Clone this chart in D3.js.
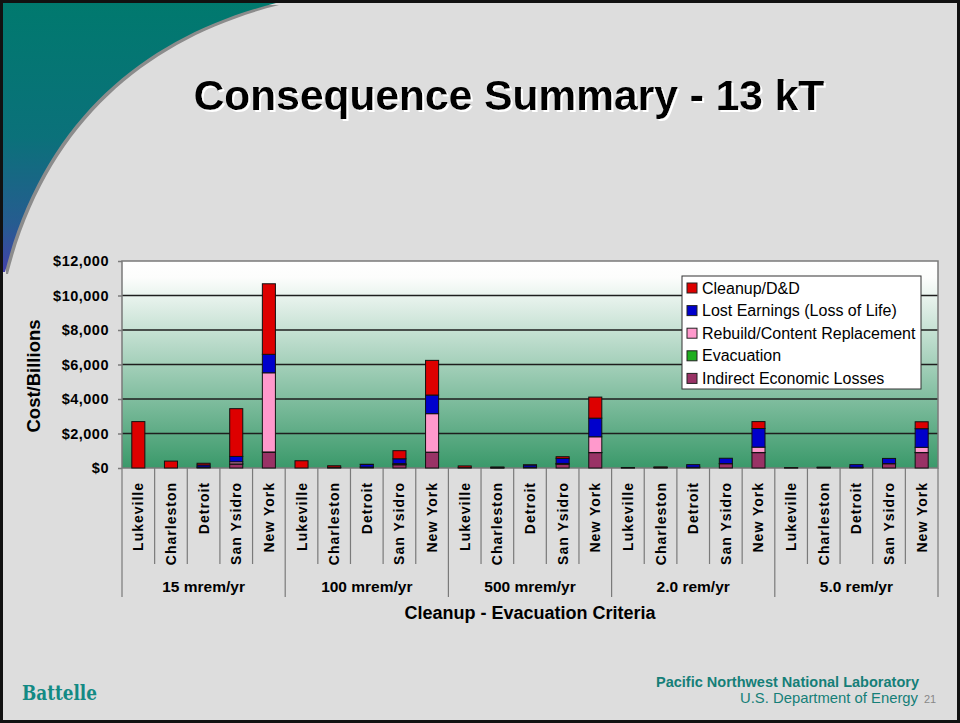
<!DOCTYPE html>
<html>
<head>
<meta charset="utf-8">
<script src="https://cdn.jsdelivr.net/npm/d3@7"></script>
<style>
  body { margin: 0; background: #dcdcdc; }
  svg { display: block; font-family: "Liberation Sans", Arial, sans-serif; }
</style>
</head>
<body>
<svg id="slide" width="960" height="723"></svg>
<script>
// chart data (values in $ billions)
var cities = ["Lukeville", "Charleston", "Detroit", "San Ysidro", "New York"];
var criteria = ["15 mrem/yr", "100 mrem/yr", "500 mrem/yr", "2.0 rem/yr", "5.0 rem/yr"];
var yTicks = [0, 2000, 4000, 6000, 8000, 10000, 12000];

// each series: 5 cities x 5 criteria, criteria-major
var indirectLosses = [0, 0, 50, 230, 920,   0, 20, 50, 190, 910,   20, 10, 40, 230, 890,   10, 20, 40, 250, 890,   10, 20, 40, 250, 890];
var evacuation     = [0, 0, 5, 10, 10,      0, 0, 5, 5, 10,        0, 0, 5, 5, 10,         0, 0, 5, 5, 10,         0, 0, 5, 5, 10];
var rebuild        = [0, 0, 0, 120, 4590,   0, 0, 0, 60, 2230,     0, 0, 0, 30, 910,       0, 0, 0, 0, 310,        0, 0, 0, 0, 300];
var lostEarnings   = [0, 0, 120, 310, 1070, 0, 20, 150, 280, 1080, 0, 10, 130, 290, 1080,  0, 20, 150, 310, 1080,  0, 10, 150, 300, 1080];
var cleanup        = [2690, 400, 100, 2770, 4090, 420, 90, 10, 470, 2010, 100, 40, 5, 100, 1220, 20, 20, 0, 0, 400, 10, 20, 0, 0, 400];

var seriesNames  = ["Indirect Economic Losses", "Evacuation", "Rebuild/Content Replacement", "Lost Earnings (Loss of Life)", "Cleanup/D&D"];
var seriesValues = [indirectLosses, evacuation, rebuild, lostEarnings, cleanup];
var seriesColors = ["#993366", "#1fae1f", "#ff99cc", "#0000cc", "#dd0000"];

var svg = d3.select("#slide");
var defs = svg.append("defs");

//slide background + frame
svg.append("rect").attr("width", 960).attr("height", 723).attr("fill", "#dddddd");

var sw = defs.append("linearGradient").attr("id", "swoosh")
    .attr("x1", 0).attr("y1", 0).attr("x2", 0).attr("y2", 1);
sw.append("stop").attr("offset", "0%").attr("stop-color", "#00796e");
sw.append("stop").attr("offset", "50%").attr("stop-color", "#0b717a");
sw.append("stop").attr("offset", "82%").attr("stop-color", "#265c90");
sw.append("stop").attr("offset", "100%").attr("stop-color", "#4242aa");

var curve = "M 3 3 L 276 3 C 150 35, 45 115, 5 272 L 3 272 Z";
svg.append("path").attr("d", curve).attr("fill", "#8c8c8c").attr("transform", "translate(3,2)");
svg.append("path").attr("d", curve).attr("fill", "url(#swoosh)");

svg.append("rect").attr("x", 1.5).attr("y", 1.5).attr("width", 957).attr("height", 720)
    .attr("fill", "none").attr("stroke", "#111").attr("stroke-width", 3);

//title with white drop
var shadow = defs.append("filter").attr("id", "whiteDrop")
    .attr("x", "-5%").attr("y", "-20%").attr("width", "110%").attr("height", "140%");
shadow.append("feOffset").attr("in", "SourceAlpha").attr("dx", 2).attr("dy", 2).attr("result", "off");
shadow.append("feFlood").attr("flood-color", "#ffffff");
shadow.append("feComposite").attr("in2", "off").attr("operator", "in").attr("result", "wh");
var fm = shadow.append("feMerge");
fm.append("feMergeNode").attr("in", "wh");
fm.append("feMergeNode").attr("in", "SourceGraphic");

svg.append("text").attr("x", 509).attr("y", 110).attr("text-anchor", "middle")
    .attr("filter", "url(#whiteDrop)")
    .style("font-size", "42.5px").style("font-weight", "bold").attr("fill", "#000")
    .text("Consequence Summary - 13 kT");

//plot
var px0 = 122, px1 = 938, py0 = 261, py1 = 468;
var labels = [];
criteria.forEach(function(c){ cities.forEach(function(city){ labels.push({city: city, crit: c}); }); });

var x = d3.scaleBand().domain(d3.range(labels.length)).range([px0, px1])
    .paddingInner(0.6).paddingOuter(0.3);
var y = d3.scaleLinear().domain([0, 12000]).range([py1, py0]);

var pg = defs.append("linearGradient").attr("id", "plotbg")
    .attr("x1", 0).attr("y1", 0).attr("x2", 0).attr("y2", 1);
pg.append("stop").attr("offset", "0%").attr("stop-color", "#ffffff");
pg.append("stop").attr("offset", "8%").attr("stop-color", "#fcfdfc");
pg.append("stop").attr("offset", "100%").attr("stop-color", "#3a996a");

svg.append("rect").attr("x", px0).attr("y", py0).attr("width", px1 - px0).attr("height", py1 - py0)
    .attr("fill", "url(#plotbg)");

svg.append("g").selectAll("line").data(yTicks.filter(function(t){ return t > 0 && t < 12000; }))
    .enter().append("line")
    .attr("x1", px0).attr("x2", px1)
    .attr("y1", function(d){ return y(d); }).attr("y2", function(d){ return y(d); })
    .attr("stroke", "#1e1e1e").attr("stroke-width", 1.5);

svg.append("rect").attr("x", px0).attr("y", py0).attr("width", px1 - px0).attr("height", py1 - py0)
    .attr("fill", "none").attr("stroke", "#7a7a7a").attr("stroke-width", 1.5);

//stacked bars
var rows = labels.map(function(l, i){
    var r = {i: i};
    seriesNames.forEach(function(n, k){ r[n] = seriesValues[k][i]; });
    return r;
});
var stacked = d3.stack().keys(seriesNames)(rows);

svg.append("g").selectAll("g").data(stacked).enter().append("g")
    .attr("fill", function(d, k){ return seriesColors[k]; })
    .selectAll("rect").data(function(d){ return d.filter(function(s){ return s[1] - s[0] > 0; }); })
    .enter().append("rect")
    .attr("x", function(d){ return x(d.data.i); })
    .attr("width", x.bandwidth())
    .attr("y", function(d){ return y(d[1]); })
    .attr("height", function(d){ return y(d[0]) - y(d[1]); })
    .attr("stroke", "#111").attr("stroke-width", 1);

//y axis
var yAxis = d3.axisLeft(y).tickValues(yTicks).tickSize(4).tickPadding(9)
    .tickFormat(function(d){ return "$" + d3.format(",")(d); });
var ya = svg.append("g").attr("transform", "translate(" + px0 + ",0)").call(yAxis);
ya.select(".domain").remove();
ya.selectAll(".tick line").attr("stroke", "#7a7a7a").attr("stroke-width", 1.5);
ya.selectAll("text").attr("fill", "#000")
    .style("font-size", "14.5px").style("font-weight", "bold")
    .style("font-family", "'Liberation Sans', Arial, sans-serif").style("letter-spacing", "0.5px");

svg.append("text").attr("transform", "translate(40,376) rotate(-90)").attr("text-anchor", "middle")
    .style("font-size", "18.5px").style("font-weight", "bold").text("Cost/Billions");

//category labels & dividers
var step = x.step();
svg.append("g").selectAll("line").data(d3.range(labels.length + 1)).enter().append("line")
    .attr("x1", function(i){ return px0 + i * step; }).attr("x2", function(i){ return px0 + i * step; })
    .attr("y1", py1).attr("y2", function(i){ return i % cities.length === 0 ? 597 : 564; })
    .attr("stroke", "#7a7a7a").attr("stroke-width", 1.2);

svg.append("g").selectAll("text").data(labels).enter().append("text")
    .attr("transform", function(d, i){
        return "translate(" + (x(i) + x.bandwidth() / 2 + 5) + ",482) rotate(-90)";
    })
    .attr("text-anchor", "end")
    .style("font-size", "14px").style("font-weight", "bold").style("letter-spacing", "1px")
    .text(function(d){ return d.city; });

svg.append("g").selectAll("text").data(criteria).enter().append("text")
    .attr("x", function(d, g){ return px0 + (g * cities.length + cities.length / 2) * step; })
    .attr("y", 592).attr("text-anchor", "middle")
    .style("font-size", "15.5px").style("font-weight", "bold")
    .text(function(d){ return d; });

svg.append("text").attr("x", 530).attr("y", 619).attr("text-anchor", "middle")
    .style("font-size", "18px").style("font-weight", "bold").text("Cleanup - Evacuation Criteria");

//legend
var lg = svg.append("g").attr("transform", "translate(682,276)");
lg.append("rect").attr("width", 239).attr("height", 113).attr("fill", "#fff")
    .attr("stroke", "#333").attr("stroke-width", 1);
var legendOrder = d3.range(seriesNames.length).reverse();
var item = lg.selectAll("g.item").data(legendOrder).enter().append("g")
    .attr("transform", function(k, j){ return "translate(0," + (12 + j * 22.6) + ")"; });
item.append("rect").attr("x", 5).attr("y", -5).attr("width", 10).attr("height", 10)
    .attr("fill", function(k){ return seriesColors[k]; }).attr("stroke", "#222").attr("stroke-width", 1);
item.append("text").attr("x", 20).attr("y", 5.5)
    .style("font-size", "16px").text(function(k){ return seriesNames[k]; });

//footer
var teal = "#157f78";
svg.append("text").attr("x", 22).attr("y", 700).attr("fill", "#138a84")
    .attr("textLength", 75).attr("lengthAdjust", "spacingAndGlyphs")
    .style("font-family", "'DejaVu Serif', serif").style("font-size", "21px").style("font-weight", "bold")
    .text("Battelle");
svg.append("text").attr("x", 919).attr("y", 687).attr("text-anchor", "end").attr("fill", teal)
    .attr("textLength", 263).attr("lengthAdjust", "spacingAndGlyphs")
    .style("font-size", "14px").style("font-weight", "bold")
    .text("Pacific Northwest National Laboratory");
svg.append("text").attr("x", 918).attr("y", 703).attr("text-anchor", "end").attr("fill", teal)
    .attr("textLength", 178).attr("lengthAdjust", "spacingAndGlyphs")
    .style("font-size", "15px")
    .text("U.S. Department of Energy");
svg.append("text").attr("x", 924).attr("y", 703).attr("fill", "#888")
    .style("font-size", "11px").text("21");
</script>
</body>
</html>
